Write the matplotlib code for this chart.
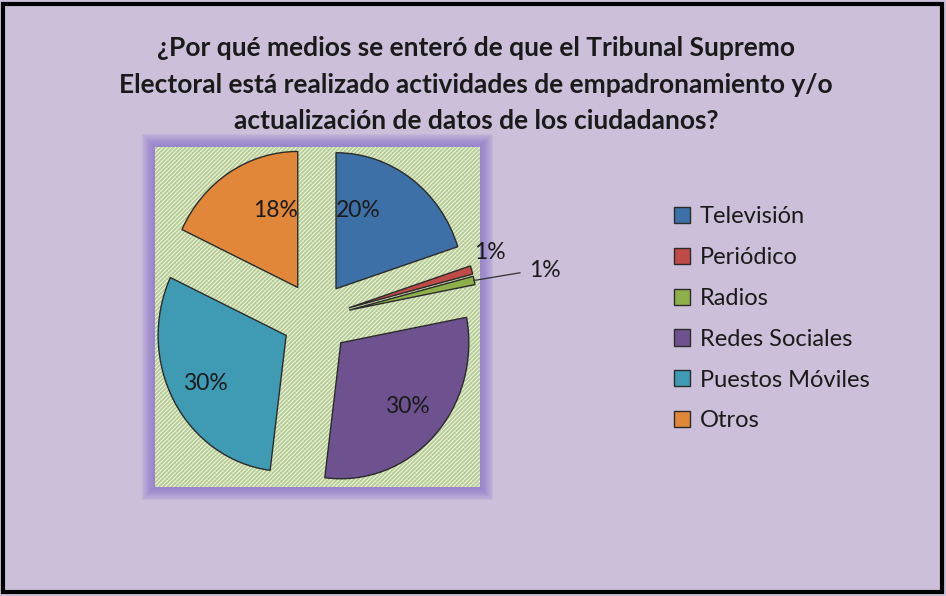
import numpy as np
import matplotlib
matplotlib.use("Agg")
import matplotlib.pyplot as plt
from matplotlib.patches import Rectangle

plt.rcParams['font.family'] = ['Lato', 'DejaVu Sans']
plt.rcParams['hatch.linewidth'] = 1.4

# data
categorias = ["Televisión", "Periódico", "Radios", "Redes Sociales", "Puestos Móviles", "Otros"]
porcentajes = [20, 1, 1, 30, 30, 18]
colores = ["#3E70A8", "#BE4B48", "#8DB04A", "#6E5290", "#3F9AB4", "#E0873A"]
titulo = ("¿Por qué medios se enteró de que el Tribunal Supremo\n"
          "Electoral está realizado actividades de empadronamiento y/o\n"
          "actualización de datos de los ciudadanos?")

# label placement tweaks (radius, angle shift) relative to exploded slice
lbl_r = [0.597, 1.175, 1.557, 0.700, 0.724, 0.588]
lbl_dt = [19.3, 3.9, -1.7, 0.8, 0.1, -15.6]
EXPL = 0.266

W, H = 946, 596
fig = plt.figure(figsize=(W / 100, H / 100), dpi=100, facecolor="#CBBFD9")

# outer black frame
fig.add_artist(Rectangle((3 / W, 4 / H), 1 - 7 / W, 1 - 8 / H, transform=fig.transFigure,
                         fill=False, edgecolor="black", linewidth=3))

ax_l, ax_b, ax_w, ax_h = 155, 487, 325, 340
# soft purple glow around plot area (drawn behind the axes)
for i in range(10):
    pad = 13 - i * 1.2
    fig.add_artist(Rectangle(((ax_l - pad) / W, 1 - (ax_b + pad) / H),
                             (ax_w + 2 * pad) / W, (ax_h + 2 * pad) / H,
                             transform=fig.transFigure, facecolor="#8B74CC",
                             edgecolor="none", alpha=0.12, zorder=-5))

ax = fig.add_axes([ax_l / W, 1 - ax_b / H, ax_w / W, ax_h / H])
ax.add_patch(Rectangle((0, 0), 1, 1, transform=ax.transAxes, facecolor="#F3F6EA",
                       edgecolor="#B5CD92", hatch="////////", linewidth=0, zorder=0))

wedges, _ = ax.pie(porcentajes, colors=colores, startangle=90, counterclock=False,
                   explode=[EXPL] * len(porcentajes),
                   wedgeprops=dict(edgecolor="#2B2B2B", linewidth=1.0))

# pie is slightly squeezed horizontally, as in the source
RX, RY = 128, 136
ax.set_xlim((155 - 316) / RX, (480 - 316) / RX)
ax.set_ylim((318 - 487) / RY, (318 - 147) / RY)
ax.set_aspect("auto")
ax.axis("off")

for i, w in enumerate(wedges):
    mid = np.deg2rad((w.theta1 + w.theta2) / 2)
    cx, cy = EXPL * np.cos(mid), EXPL * np.sin(mid)
    t = mid + np.deg2rad(lbl_dt[i])
    x, y = cx + lbl_r[i] * np.cos(t), cy + lbl_r[i] * np.sin(t)
    ax.text(x, y, f"{porcentajes[i]}%", ha="center", va="center", fontsize=16.5,
            color="#1A1A1A", clip_on=False)
    if categorias[i] == "Radios":
        # leader line from slice edge to label
        ex, ey = cx + 1.0 * np.cos(mid), cy + 1.0 * np.sin(mid)
        ax.plot([ex, x - 0.195], [ey, y - 0.02], color="#333333", lw=0.9, clip_on=False)

fig.text(0.503, 0.858, titulo, ha="center", va="center", fontsize=19,
         fontweight="bold", color="#1A1A1A", linespacing=1.62)

fig.legend(wedges, categorias, loc="upper left", bbox_to_anchor=(653 / W, 1 - 185 / H),
           frameon=False, fontsize=17, handlelength=0.68, handleheight=0.68,
           handletextpad=0.4, labelspacing=0.84, labelcolor="#1A1A1A")

fig.savefig("out.png", dpi=100, facecolor=fig.get_facecolor())
